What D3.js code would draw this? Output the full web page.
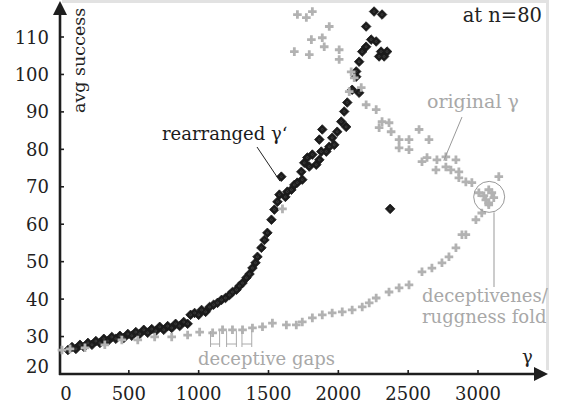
<!DOCTYPE html>
<html><head><meta charset="utf-8">
<script src="https://cdn.jsdelivr.net/npm/d3@7"></script>
<style>body{margin:0;background:#fff}svg{display:block}text{font-family:"DejaVu Serif",serif}</style>
</head><body>
<svg id="c" width="565" height="409"></svg>
<script>
// rearranged γ' (black diamonds): [gamma, avg success]
const rearrangedGamma = [64,93,121,150,179,207,236,264,293,321,350,378,407,436,464,493,521,550,578,607,635,664,693,721,750,778,807,835,864,893,921,942,971,1000,1021,1050,1078,1107,1135,1164,1192,1221,1242,1271,1292,1314,1342,1364,1385,1407,1421,1449,1471,1492,1521,1542,1564,1578,1592,1621,1635,1664,1685,1706,1742,1735,1756,1778,1792,1814,1842,1864,1878,1914,1864,1885,1935,1971,1956,1992,2021,2042,2056,2064,2099,2128,2128,2149,2149,2171,2199,2235,2271,2292,2306,2328,2349,2199,2256,2313,2371];
const rearrangedSuccess = [26.4,27.2,26.7,27.8,27.2,28.3,27.8,28.8,28.3,29.4,28.8,29.9,29.4,30.2,29.6,30.7,30.2,31.2,30.7,31.8,31.0,32.0,31.5,32.6,31.8,32.8,32.3,33.4,32.8,33.9,33.4,35.8,36.3,35.8,37.1,36.6,37.9,38.5,39.0,39.8,40.3,41.1,41.9,42.5,43.5,44.3,45.7,46.7,48.3,49.7,51.3,53.7,55.8,57.7,61.2,63.9,66.0,67.9,72.7,67.3,68.7,69.2,70.5,71.1,71.9,74.0,76.4,77.8,75.4,78.6,75.9,77.2,79.4,79.4,82.6,85.3,80.7,81.2,83.1,84.7,87.4,90.1,86.0,92.5,95.9,99.4,100.8,95.1,103.4,106.1,107.4,109.3,108.8,104.8,106.1,104.8,106.1,112.8,116.8,116.0,64.1];
// original γ (gray crosses)
const originalGamma = [21,79,186,328,450,564,685,807,921,1007,1100,1171,1242,1314,1385,1457,1528,1628,1699,1742,1814,1885,1956,2028,2099,2171,2221,2271,2363,2435,2506,2599,2670,2742,2792,2842,2885,2913,2985,3027,3077,3006,3056,3077,3099,3113,3077,3042,3149,2956,2913,2863,2863,2806,2770,2699,2842,2770,2706,2635,2599,2649,2578,2506,2435,2435,2506,2378,2363,2313,2292,2271,2199,2164,2078,2114,2092,2006,2006,1899,1885,1807,1792,1685,1935,1707,1771,1814,1600];
const originalSuccess = [26.4,26.7,27.0,27.8,29.1,29.1,29.9,29.9,30.4,31.2,31.0,31.8,31.8,31.8,32.3,32.6,33.6,33.1,33.1,33.9,35.0,35.8,36.3,36.6,37.1,37.9,39.0,40.3,41.9,43.0,43.8,47.3,48.3,49.7,51.3,53.7,57.2,57.2,61.2,63.0,65.2,68.4,66.5,65.7,68.4,67.1,69.2,67.6,72.7,71.1,71.3,72.4,74.0,74.5,75.3,74.5,77.2,78.0,77.2,77.8,76.7,82.6,85.3,79.9,80.4,82.6,82.6,84.7,87.1,87.4,85.8,90.6,91.9,96.5,95.4,99.1,100.7,104.0,106.6,107.4,109.8,109.3,105.3,106.1,112.8,116.0,115.2,116.8,64.1];
const xTicks = [0,500,1000,1500,2000,2500,3000];
const yTicks = [20,30,40,50,60,70,80,90,100,110];
const gapBrackets = [[1085,1150],[1200,1270],[1310,1380]];

const svg = d3.select('#c');
const FS = 18;
const x = d3.scaleLinear().domain([0,3000]).range([59,478]);
const y = d3.scaleLinear().domain([20,110]).range([374,37]);
const axisColor = '#1e1e1e', gray = '#b2b2b2', textGray = '#a8a8a8';

// light frame
svg.append('path').attr('d','M62,1.5H547.5V370').attr('fill','none').attr('stroke','#e2e2e2').attr('stroke-width',3);

// axes lines with arrows
svg.append('line').attr('x1',60).attr('x2',60).attr('y1',375).attr('y2',12).attr('stroke',axisColor).attr('stroke-width',2.6);
svg.append('path').attr('d','M60,1L67,15L53,15Z').attr('fill',axisColor);
svg.append('line').attr('x1',59).attr('x2',536).attr('y1',374).attr('y2',374).attr('stroke',axisColor).attr('stroke-width',2.6);
svg.append('path').attr('d','M548,374L534,367L534,381Z').attr('fill',axisColor);

// ticks
svg.selectAll('.yt').data(yTicks.slice(1)).join('line').attr('x1',60).attr('x2',64).attr('y1',d=>y(d)).attr('y2',d=>y(d)).attr('stroke',axisColor).attr('stroke-width',1.6);
svg.selectAll('.xt').data(xTicks.slice(1)).join('line').attr('x1',d=>x(d)).attr('x2',d=>x(d)).attr('y1',374).attr('y2',370).attr('stroke',axisColor).attr('stroke-width',1.6);
svg.selectAll('.yl').data(yTicks).join('text').attr('x',49).attr('y',d=>y(d)+(d===20?-1:6.5)).attr('text-anchor','end')
  .attr('font-size',FS).attr('fill','#222').text(d=>d);
svg.selectAll('.xl').data(xTicks).join('text').attr('x',d=>x(d)+(d===0?7:0)).attr('y',400).attr('text-anchor','middle')
  .attr('font-size',FS).attr('fill','#222').text(d=>d);

// axis titles
svg.append('text').attr('transform','translate(85,113) rotate(-90)').attr('font-size',17.5).attr('fill','#222').text('avg success');
svg.append('text').attr('x',522).attr('y',363).attr('font-size',FS).attr('fill','#222').text('γ');
svg.append('text').attr('x',542).attr('y',22).attr('text-anchor','end').attr('font-size',19.5).attr('fill','#222').text('at n=80');

// black diamonds
const rData = rearrangedGamma.map((g,i)=>[g,rearrangedSuccess[i]]);
const gD = svg.append('g');
gD.selectAll('path').data(rData).join('path')
  .attr('d','M0,-4.8L4.8,0L0,4.8L-4.8,0Z').attr('transform',d=>`translate(${x(d[0])},${y(d[1])})`)
  .attr('fill','#1b1b1b').attr('stroke','#1b1b1b').attr('stroke-width',0.8).attr('stroke-linejoin','round');
gD.selectAll('circle').data(rData).join('circle').attr('cx',d=>x(d[0])).attr('cy',d=>y(d[1])).attr('r',1)
  .attr('fill','none').attr('stroke','#555').attr('stroke-width',0.5);

// gray crosses
const oData = originalGamma.map((g,i)=>[g,originalSuccess[i]]);
svg.append('g').selectAll('path').data(oData).join('path')
  .attr('d','M-4.3,0H4.3M0,-4.3V4.3').attr('transform',d=>`translate(${x(d[0])},${y(d[1])})`)
  .attr('stroke',gray).attr('stroke-width',2.8).attr('fill','none');

// annotations
svg.append('text').attr('x',162).attr('y',140).attr('font-size',FS).attr('fill','#1b1b1b').text('rearranged γ‘');
svg.append('line').attr('x1',257).attr('y1',147).attr('x2',x(1582)).attr('y2',y(71.5)).attr('stroke','#222').attr('stroke-width',1);

svg.append('text').attr('x',427).attr('y',108).attr('font-size',19).attr('fill',textGray).text('original γ');
svg.append('line').attr('x1',462).attr('y1',117).attr('x2',x(2755)).attr('y2',y(77)).attr('stroke','#999').attr('stroke-width',1);

svg.append('circle').attr('cx',x(3080)).attr('cy',y(67.3)).attr('r',15.5).attr('fill','none').attr('stroke','#999').attr('stroke-width',1);
svg.append('line').attr('x1',494).attr('x2',494).attr('y1',y(67.3)+15.5).attr('y2',287).attr('stroke','#999').attr('stroke-width',1);
svg.append('text').attr('x',422).attr('y',302).attr('font-size',FS).attr('fill',textGray).text('deceptivenes/');
svg.append('text').attr('x',422).attr('y',323).attr('font-size',FS).attr('fill',textGray).text('ruggness fold');

const br = svg.append('g').attr('stroke','#aaa').attr('stroke-width',1).attr('fill','none');
gapBrackets.forEach(b=>{
  br.append('path').attr('d',`M${x(b[0])},331V347M${x(b[1])},331V347M${x(b[0])},344H${x(b[1])}`);
});
svg.append('text').attr('x',198).attr('y',365).attr('font-size',FS).attr('fill',textGray).text('deceptive gaps');
</script>
</body></html>
